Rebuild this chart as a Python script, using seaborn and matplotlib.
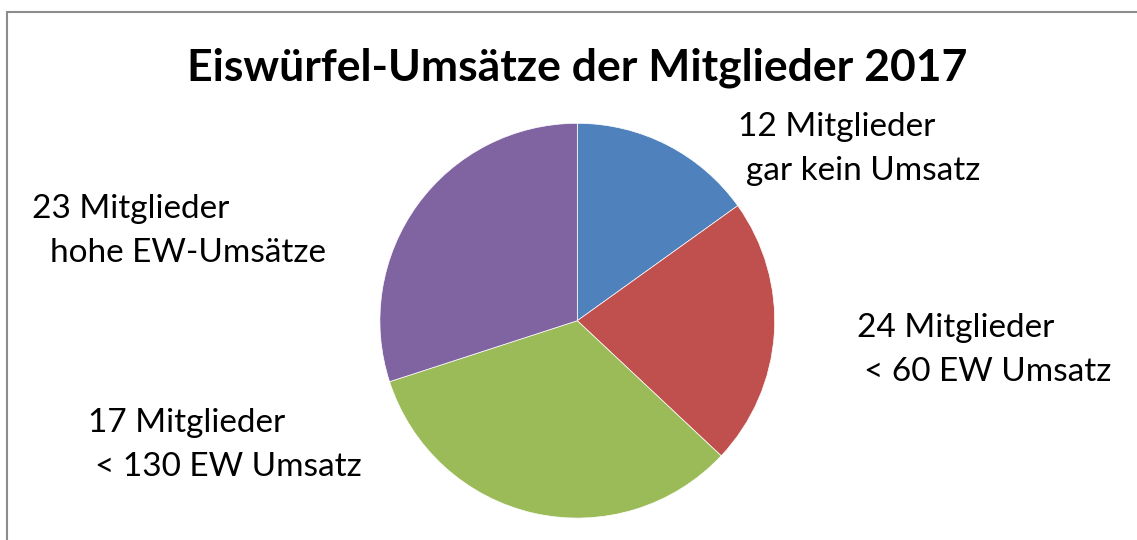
import numpy as np
import matplotlib
matplotlib.use("Agg")
import matplotlib.pyplot as plt
import seaborn as sns

# Daten (Anteile aus dem Bild geschätzt, Reihenfolge im Uhrzeigersinn ab 12 Uhr)
gruppen = ["gar kein Umsatz", "< 60 EW Umsatz", "< 130 EW Umsatz", "hohe EW-Umsätze"]
mitglieder = [12, 24, 17, 23]
anteile = [15.1, 21.9, 33.0, 30.0]
farben = ["#4F81BD", "#C0504D", "#9BBB59", "#8064A2"]

sns.set_theme(style="white")
plt.rcParams['font.family'] = ['Lato', 'DejaVu Sans']

W, H = 1137, 540
fig = plt.figure(figsize=(W / 100, H / 100), dpi=100)

# Rahmen wie im Excel-Diagramm (rechts/unten abgeschnitten)
fig.patches.append(plt.Rectangle((6.5 / W, -0.1), 1.2, (H - 11.5) / H + 0.1,
                                 transform=fig.transFigure, fill=False,
                                 edgecolor="#8c8c8c", linewidth=1.5))

# Kreisdiagramm
cx, cy, r = 577.3, 320.7, 197.4
ax = fig.add_axes([(cx - r) / W, (H - cy - r) / H, 2 * r / W, 2 * r / H])
ax.pie(anteile, colors=sns.color_palette(farben), startangle=90, counterclock=False,
       radius=1.0, wedgeprops=dict(linewidth=0.5, edgecolor="white"))
ax.set_xlim(-1, 1)
ax.set_ylim(-1, 1)
ax.set_aspect("equal")
ax.axis("off")

fig.text(577 / W, 1 - 80 / H, "Eiswürfel-Umsätze der Mitglieder 2017",
         ha="center", va="baseline", fontsize=32, fontweight="bold", color="black")

# Beschriftungen: (x Zeile 1, x Zeile 2, Grundlinie Zeile 1)
pos = [(738, 746, 136), (857, 864, 337), (88, 95, 432), (32, 50, 218)]
for n, g, (x1, x2, y1) in zip(mitglieder, gruppen, pos):
    fig.text(x1 / W, 1 - y1 / H, f"{n} Mitglieder", ha="left", va="baseline",
             fontsize=24, color="black")
    fig.text(x2 / W, 1 - (y1 + 44) / H, g, ha="left", va="baseline",
             fontsize=24, color="black")

fig.savefig("out.png", dpi=100, facecolor="white")
